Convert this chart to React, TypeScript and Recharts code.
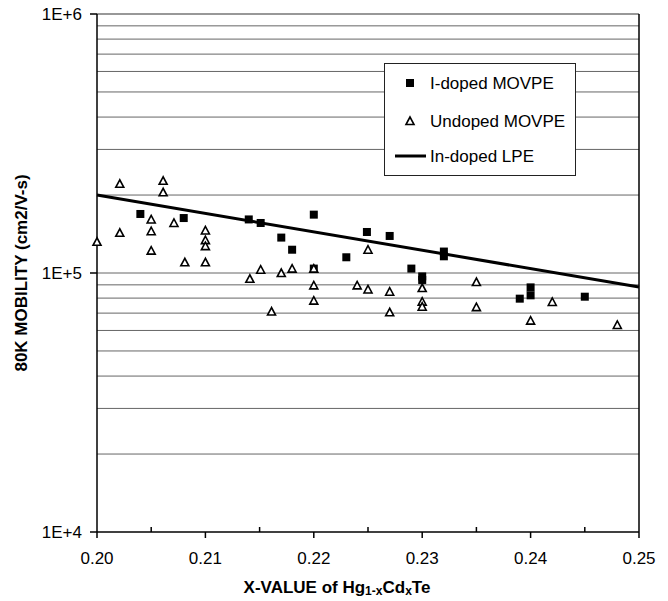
import React from 'react';
import {
  ScatterChart,
  Scatter,
  XAxis,
  YAxis,
  ReferenceLine,
  Legend,
} from 'recharts';

// I-doped MOVPE (filled squares)
const iDopedX = [0.204, 0.208, 0.214, 0.2151, 0.217, 0.218, 0.22, 0.22, 0.223, 0.2249, 0.227, 0.229, 0.23, 0.23, 0.232, 0.232, 0.239, 0.24, 0.24, 0.245];
const iDopedY = [169000, 163000, 161000, 156000, 137000, 123000, 168000, 104000, 115000, 144000, 139000, 104000, 97000, 94000, 121000, 116000, 79600, 88000, 82000, 81000];

// Undoped MOVPE (open triangles)
const undopedX = [0.2, 0.2021, 0.2021, 0.205, 0.205, 0.205, 0.2061, 0.2061, 0.2071, 0.2081, 0.21, 0.21, 0.21, 0.21, 0.2141, 0.2151, 0.2161, 0.217, 0.218, 0.22, 0.22, 0.22, 0.224, 0.225, 0.225, 0.227, 0.227, 0.23, 0.23, 0.23, 0.235, 0.235, 0.24, 0.242, 0.248];
const undopedY = [132000, 221000, 143000, 161000, 145000, 122000, 227000, 205000, 156000, 110000, 146000, 134000, 127000, 110000, 95000, 103000, 71000, 100000, 104000, 104000, 89600, 78200, 89600, 86400, 123000, 84700, 70500, 87500, 77500, 74100, 92300, 73800, 65500, 77300, 63000];

// In-doped LPE (line)
const lpeX = [0.2, 0.25];
const lpeY = [200000, 88300];

const xMajorTicks = [0.2, 0.21, 0.22, 0.23, 0.24, 0.25];
const xMinorTicks = [0.205, 0.215, 0.225, 0.235, 0.245];
const yTicks = [10000, 100000, 1000000];
const yGrid = [
  20000, 30000, 40000, 50000, 60000, 70000, 80000, 90000,
  100000, 200000, 300000, 400000, 500000, 600000, 700000, 800000, 900000,
];

const iDoped = iDopedX.map((x, i) => ({ x, y: iDopedY[i] }));
const undoped = undopedX.map((x, i) => ({ x, y: undopedY[i] }));
const lpe = lpeX.map((x, i) => ({ x, y: lpeY[i] }));
const allXTicks = [...xMajorTicks, ...xMinorTicks].sort((a, b) => a - b);

const FONT = '"Liberation Sans", Arial, sans-serif';

const Square = (p: any) => (
  <rect x={p.cx - 4} y={p.cy - 4} width={8} height={8} fill="#000" />
);

const Triangle = (p: any) => (
  <polygon
    points={`${p.cx},${p.cy - 4} ${p.cx - 4},${p.cy + 3.5} ${p.cx + 4},${p.cy + 3.5}`}
    fill="#fff"
    stroke="#000"
    strokeWidth={1.6}
  />
);

const NoShape = () => <g />;

const XTick = (props: any) => {
  const { x, y, payload } = props;
  const v = payload.value;
  const major = xMajorTicks.some((m) => Math.abs(m - v) < 1e-9);
  return (
    <g>
      {major ? (
        <line x1={x} x2={x} y1={y} y2={y + 6} stroke="#000" strokeWidth={1.5} />
      ) : (
        <line x1={x} x2={x} y1={y} y2={y - 5} stroke="#000" strokeWidth={1.5} />
      )}
      {major && (
        <text
          x={x}
          y={y + 26}
          textAnchor="middle"
          dominantBaseline="central"
          fontFamily={FONT}
          fontSize={17}
          fill="#000"
        >
          {v.toFixed(2)}
        </text>
      )}
    </g>
  );
};

const XTitle = (props: any) => {
  const vb = props.viewBox || { x: 97, y: 532 };
  return (
    <text
      x={vb.x + 240}
      y={vb.y + 55}
      textAnchor="middle"
      dominantBaseline="central"
      fontFamily={FONT}
      fontSize={17}
      fontWeight="bold"
      fill="#000"
    >
      X-VALUE of Hg
      <tspan fontSize={12} dy={4}>1-x</tspan>
      <tspan dy={-4}>Cd</tspan>
      <tspan fontSize={12} dy={4}>x</tspan>
      <tspan dy={-4}>Te</tspan>
    </text>
  );
};

const YTitle = () => (
  <text
    x={21}
    y={273}
    transform="rotate(-90 21 273)"
    textAnchor="middle"
    dominantBaseline="central"
    fontFamily={FONT}
    fontSize={17}
    fontWeight="bold"
    fill="#000"
  >
    80K MOBILITY (cm2/V-s)
  </text>
);

const LegendBox = () => (
  <svg width={192} height={113} style={{ display: 'block' }}>
    <rect x={0.5} y={0.5} width={191} height={112} fill="#fff" stroke="#222" strokeWidth={1} />
    <rect x={22} y={16} width={8} height={8} fill="#000" />
    <text x={46} y={20} dominantBaseline="central" fontFamily={FONT} fontSize={17} fill="#000">
      I-doped MOVPE
    </text>
    <polygon points="26,54 22,61.5 30,61.5" fill="#fff" stroke="#000" strokeWidth={1.6} />
    <text x={46} y={58} dominantBaseline="central" fontFamily={FONT} fontSize={17} fill="#000">
      Undoped MOVPE
    </text>
    <line x1={11} x2={42} y1={93} y2={93} stroke="#000" strokeWidth={3} />
    <text x={46} y={93} dominantBaseline="central" fontFamily={FONT} fontSize={17} fill="#000">
      In-doped LPE
    </text>
  </svg>
);

export default function App() {
  return (
    <div style={{ position: 'absolute', left: 0, top: 0, width: 668, height: 601, background: '#fff' }}>
      <ScatterChart
        width={668}
        height={601}
        margin={{ top: 14, right: 29, left: 0, bottom: 0 }}
      >
        <XAxis
          type="number"
          dataKey="x"
          domain={[0.2, 0.25]}
          ticks={allXTicks}
          interval={0}
          tickSize={0}
          tickMargin={0}
          tickLine={false}
          tick={<XTick />}
          height={69}
          axisLine={{ stroke: '#000', strokeWidth: 1.5 }}
          label={<XTitle />}
        />
        <YAxis
          type="number"
          dataKey="y"
          scale="log"
          domain={[10000, 1000000]}
          ticks={yTicks}
          interval={0}
          width={97}
          tickSize={7}
          tickMargin={8}
          tickLine={{ stroke: '#000', strokeWidth: 1.5 }}
          axisLine={{ stroke: '#000', strokeWidth: 1.5 }}
          tick={{ fontFamily: FONT, fontSize: 17, fill: '#000' }}
          tickFormatter={(v: number) => '1E+' + Math.round(Math.log10(v))}
          label={<YTitle />}
        />
        {yGrid.map((g) => (
          <ReferenceLine key={g} y={g} stroke="#666" strokeWidth={1} />
        ))}
        <ReferenceLine y={1000000} stroke="#333" strokeWidth={1.2} />
        <ReferenceLine x={0.25} stroke="#000" strokeWidth={1.5} />
        <Legend
          layout="vertical"
          align="center"
          verticalAlign="middle"
          wrapperStyle={{ left: 384, top: 63, width: 192, height: 113 }}
          content={<LegendBox />}
        />
        <Scatter
          name="In-doped LPE"
          data={lpe}
          line={{ stroke: '#000', strokeWidth: 3 }}
          shape={<NoShape />}
          isAnimationActive={false}
        />
        <Scatter name="I-doped MOVPE" data={iDoped} shape={<Square />} isAnimationActive={false} />
        <Scatter name="Undoped MOVPE" data={undoped} shape={<Triangle />} isAnimationActive={false} />
      </ScatterChart>
    </div>
  );
}
